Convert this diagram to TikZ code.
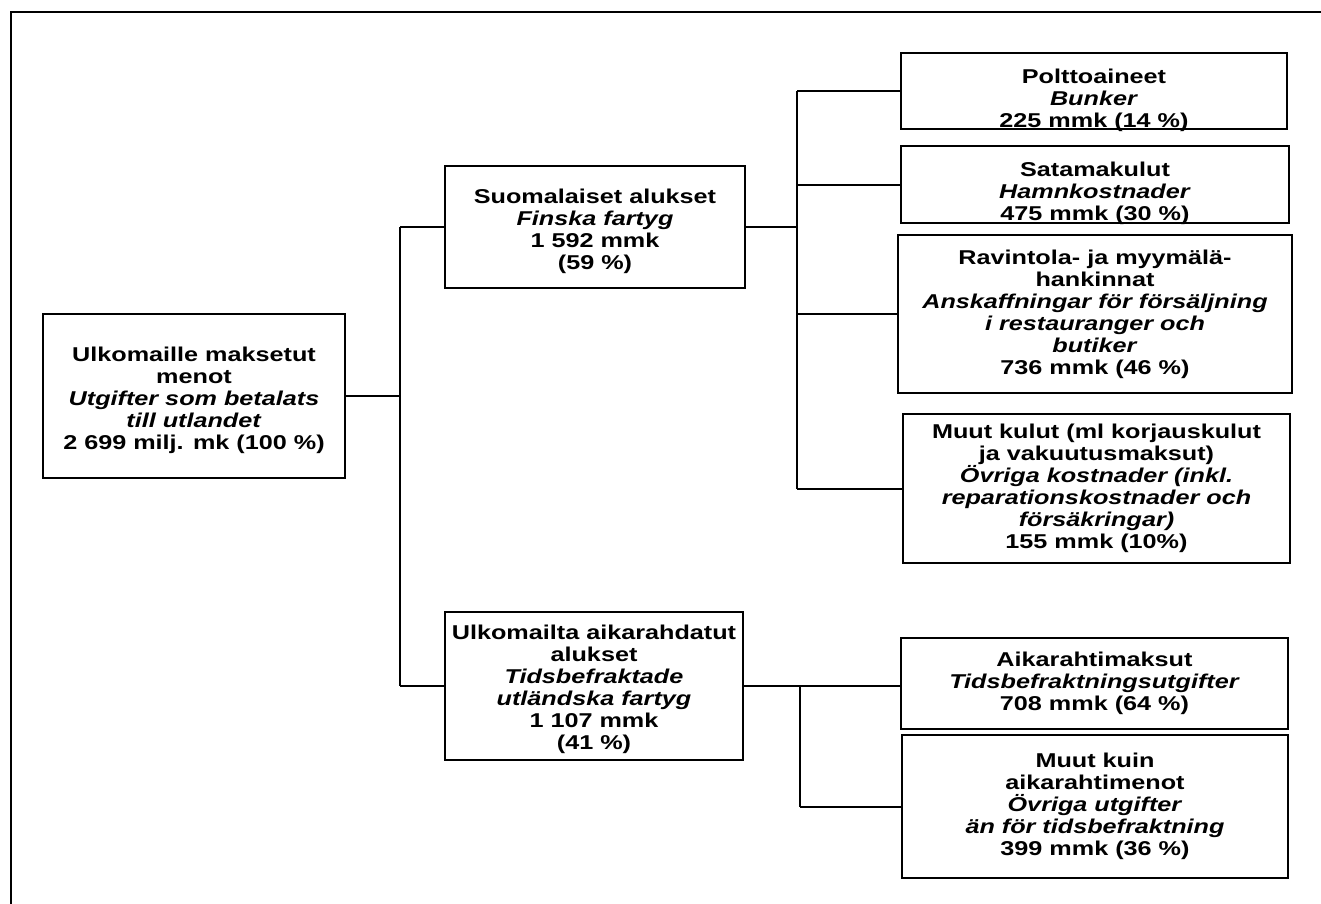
\documentclass[tikz,border=0pt]{standalone}
\usepackage{fontspec}
\setmainfont{Liberation Sans}[FakeStretch=1.26]
\usetikzlibrary{calc}
\begin{document}
\begin{tikzpicture}[x=1pt,y=-1pt,
  txt/.style={align=center,inner sep=0pt,
    font=\fontsize{20}{22}\selectfont\bfseries},
  box/.style={draw,line width=2.6pt,txt},
  conn/.style={line width=2pt}]
\useasboundingbox (0,0) rectangle (1321,903);
\draw[line width=2pt] (11,910) -- (11,12) -- (1330,12);
% boxes
\node[box,minimum width=302pt,minimum height=164pt] (root) at (194,396) {};
\node[txt] (rootT) at ($(root.center)+(0,4)$)
  {Ulkomaille maksetut\\ menot\\ \textit{Utgifter som betalats}\\ \textit{till utlandet}\\ 2 699 milj. mk (100 \%)};
\node[box,minimum width=300pt,minimum height=122pt] (suo) at (595,227) {};
\node[txt] (suoT) at ($(suo.center)+(0,4)$)
  {Suomalaiset alukset\\ \textit{Finska fartyg}\\ 1 592 mmk\\ (59 \%)};
\node[box,minimum width=298pt,minimum height=148pt] (ulk) at (594,686) {};
\node[txt] (ulkT) at ($(ulk.center)+(0,3)$)
  {Ulkomailta aikarahdatut\\ alukset\\ \textit{Tidsbefraktade}\\ \textit{utländska fartyg}\\ 1 107 mmk\\ (41 \%)};
\node[box,minimum width=386pt,minimum height=76pt] (polt) at (1094,91) {};
\node[txt] (poltT) at ($(polt.center)+(0,9)$)
  {Polttoaineet\\ \textit{Bunker}\\ 225 mmk (14 \%)};
\node[box,minimum width=388pt,minimum height=77pt] (sata) at (1095,184.5) {};
\node[txt] (sataT) at ($(sata.center)+(0,9)$)
  {Satamakulut\\ \textit{Hamnkostnader}\\ 475 mmk (30 \%)};
\node[box,minimum width=394pt,minimum height=158pt] (rav) at (1095,314)
  {Ravintola- ja myymälä-\\ hankinnat\\ \textit{Anskaffningar för försäljning}\\ \textit{i restauranger och}\\ \textit{butiker}\\ 736 mmk (46 \%)};
\node[box,minimum width=387pt,minimum height=149pt] (muut) at (1096.5,488.5)
  {Muut kulut (ml korjauskulut\\ ja vakuutusmaksut)\\ \textit{Övriga kostnader (inkl.}\\ \textit{reparationskostnader och}\\ \textit{försäkringar)}\\ 155 mmk (10\%)};
\node[box,minimum width=387pt,minimum height=91pt] (aika) at (1094.5,683.5)
  {Aikarahtimaksut\\ \textit{Tidsbefraktningsutgifter}\\ 708 mmk (64 \%)};
\node[box,minimum width=386pt,minimum height=143pt] (muutk) at (1095,806.5)
  {Muut kuin\\ aikarahtimenot\\ \textit{Övriga utgifter}\\ \textit{än för tidsbefraktning}\\ 399 mmk (36 \%)};
% connectors
\coordinate (j1) at (400,396);
\coordinate (j2) at (797,227);
\coordinate (j3) at (800,686);
\draw[conn] (root.east) -- (j1);
\draw[conn] (j1 |- suo.west) -- (j1 |- ulk.west);
\draw[conn] (j1 |- suo.west) -- (suo.west);
\draw[conn] (j1 |- ulk.west) -- (ulk.west);
\draw[conn] (suo.east) -- (j2);
\draw[conn] (j2 |- polt.west) -- (j2 |- muut.west);
\draw[conn] (j2 |- polt.west) -- (polt.west);
\draw[conn] (j2 |- sata.west) -- (sata.west);
\draw[conn] (j2 |- rav.west) -- (rav.west);
\draw[conn] (j2 |- muut.west) -- (muut.west);
\draw[conn] (ulk.east) -- (aika.west |- ulk.east);
\draw[conn] (j3) -- (j3 |- muutk.west);
\draw[conn] (j3 |- muutk.west) -- (muutk.west);
\end{tikzpicture}
\end{document}
